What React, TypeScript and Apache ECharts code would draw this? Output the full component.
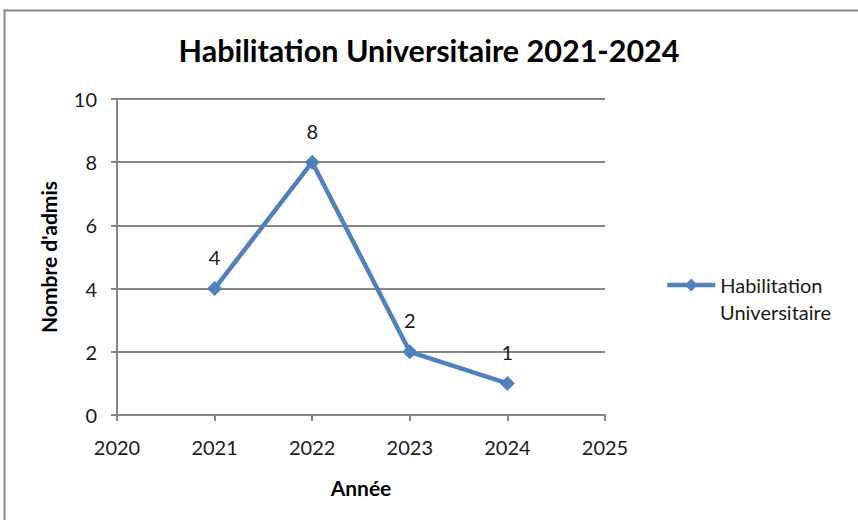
import React, { useEffect, useRef } from "react";
import * as echarts from "echarts";

const years = [2021, 2022, 2023, 2024];
const admis = [4, 8, 2, 1];
const seriesName = "Habilitation Universitaire";
const legendLines = ["Habilitation", "Universitaire"];
const titleText = "Habilitation Universitaire 2021-2024";
const xAxisName = "Année";
const yAxisName = "Nombre d'admis";

const FONT = "Lato, 'Open Sans', sans-serif";

export default function App() {
  const ref = useRef<HTMLDivElement>(null);
  useEffect(() => {
    const chart = echarts.init(ref.current!, undefined, { renderer: "svg" });
    chart.setOption({
      animation: false,
      backgroundColor: "#ffffff",
      textStyle: { fontFamily: FONT },
      title: {
        text: titleText,
        left: "center",
        top: 34,
        textStyle: { fontFamily: FONT, fontWeight: "bold", fontSize: 30.5, color: "#000" },
        padding: 0,
      },
      graphic: [
        {
          type: "rect",
          shape: { x: 4.5, y: 10.5, width: 900, height: 600 },
          style: { fill: "none", stroke: "#868686", lineWidth: 2 },
          silent: true,
        },
        {
          type: "text",
          left: 720,
          top: 302,
          style: {
            text: legendLines[1],
            fontFamily: FONT,
            fontSize: 20,
            fill: "#1a1a1a",
          },
          silent: true,
        },
      ],
      grid: { left: 117, right: 253, top: 99, bottom: 105, containLabel: false },
      legend: {
        show: true,
        left: 665,
        top: 275,
        orient: "vertical",
        itemWidth: 48,
        itemHeight: 16,
        itemGap: 6,
        padding: 0,
        formatter: () => legendLines[0],
        lineStyle: { width: 4.5 },
        textStyle: { fontFamily: FONT, fontSize: 20, color: "#1a1a1a" },
        data: [seriesName],
      },
      xAxis: {
        type: "value",
        min: 2020,
        max: 2025,
        interval: 1,
        name: xAxisName,
        nameLocation: "middle",
        nameGap: 62,
        nameTextStyle: { fontFamily: FONT, fontWeight: "bold", fontSize: 21, color: "#000" },
        axisLine: { show: true, lineStyle: { color: "#868686", width: 2 } },
        axisTick: { show: true, length: 6, lineStyle: { color: "#868686", width: 2 } },
        axisLabel: {
          fontFamily: FONT,
          fontSize: 20,
          color: "#1a1a1a",
          margin: 22,
          formatter: (v: number) => String(v),
        },
        splitLine: { show: false },
      },
      yAxis: {
        type: "value",
        min: 0,
        max: 10,
        interval: 2,
        name: yAxisName,
        nameLocation: "middle",
        nameGap: 58,
        nameTextStyle: { fontFamily: FONT, fontWeight: "bold", fontSize: 21, color: "#000" },
        axisLine: { show: true, lineStyle: { color: "#868686", width: 2 } },
        axisTick: { show: true, length: 6, lineStyle: { color: "#868686", width: 2 } },
        axisLabel: { fontFamily: FONT, fontSize: 20, color: "#1a1a1a", margin: 20 },
        splitLine: { show: true, lineStyle: { color: "#868686", width: 2 } },
      },
      series: [
        {
          name: seriesName,
          type: "line",
          data: years.map((y, i) => [y, admis[i]]),
          symbol: "diamond",
          symbolSize: 15,
          lineStyle: { color: "#4F81BD", width: 4.5 },
          itemStyle: { color: "#4F81BD" },
          label: {
            show: true,
            position: "top",
            distance: 14,
            fontFamily: FONT,
            fontSize: 20,
            color: "#1a1a1a",
          },
        },
      ],
    });
    return () => chart.dispose();
  }, []);
  return (
    <div
      ref={ref}
      style={{ position: "absolute", left: 0, top: 0, width: 858, height: 520 }}
    />
  );
}
